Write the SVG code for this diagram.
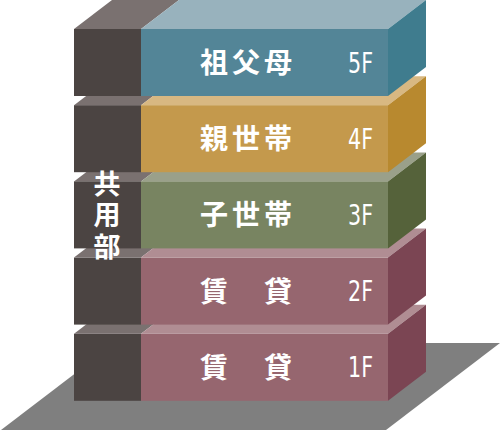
<svg xmlns="http://www.w3.org/2000/svg" width="500" height="431" viewBox="0 0 500 431">
<defs>
<style>
.cjk{font-family:"Noto Sans CJK JP","Noto Sans CJK SC",sans-serif;font-weight:bold;font-size:28px;fill:#ffffff;text-anchor:middle}
.v{font-size:27px;writing-mode:vertical-rl;letter-spacing:4.5px}
.fl{font-family:"Liberation Sans Narrow","DejaVu Sans Condensed","Liberation Sans",sans-serif;font-size:28px;fill:#ffffff}
.dkF{fill:#4b4442}
.dkT{fill:#7a7170}
.bF{fill:#538597}.bT{fill:#98b2bd}.bR{fill:#3f7c8e}
.yF{fill:#c4994c}.yT{fill:#d8b882}.yR{fill:#b8892f}
.gF{fill:#788461}.gT{fill:#9aa08a}.gR{fill:#55623a}
.mF{fill:#96666f}.mT{fill:#b08d93}.mR{fill:#7b4553}
</style>
</defs>
<rect width="500" height="431" fill="#ffffff"/>
<polygon id="ground" points="115,343 500,343 386,430 1,430" fill="#7f7f7f"/>

<g id="floor1">
<polygon class="dkT" points="74,333.8 141,333.8 179,304.8 112,304.8"/>
<rect class="dkF" x="74" y="333.8" width="67" height="67"/>
<polygon class="mT" points="141,333.8 388,333.8 426,304.8 179,304.8"/>
<rect class="mF" x="141" y="333.8" width="247" height="67"/>
<polygon class="mR" points="388,333.8 426,304.8 426,371.8 388,400.8"/>
<text class="cjk" x="214 278" y="377.8">賃貸</text>
<text class="fl" x="348" y="377.3" textLength="25" lengthAdjust="spacingAndGlyphs">1F</text>
</g>

<g id="floor2">
<polygon class="dkT" points="74,257.6 141,257.6 179,228.6 112,228.6"/>
<rect class="dkF" x="74" y="257.6" width="67" height="67"/>
<polygon class="mT" points="141,257.6 388,257.6 426,228.6 179,228.6"/>
<rect class="mF" x="141" y="257.6" width="247" height="67"/>
<polygon class="mR" points="388,257.6 426,228.6 426,295.6 388,324.6"/>
<text class="cjk" x="214 278" y="301.6">賃貸</text>
<text class="fl" x="348" y="301.1" textLength="25" lengthAdjust="spacingAndGlyphs">2F</text>
</g>

<g id="floor3">
<polygon class="dkT" points="74,181.4 141,181.4 179,152.4 112,152.4"/>
<rect class="dkF" x="74" y="181.4" width="67" height="67"/>
<polygon class="gT" points="141,181.4 388,181.4 426,152.4 179,152.4"/>
<rect class="gF" x="141" y="181.4" width="247" height="67"/>
<polygon class="gR" points="388,181.4 426,152.4 426,219.4 388,248.4"/>
<text class="cjk" x="214 246 278" y="225.4">子世帯</text>
<text class="fl" x="348" y="224.9" textLength="25" lengthAdjust="spacingAndGlyphs">3F</text>
</g>

<g id="floor4">
<polygon class="dkT" points="74,105.2 141,105.2 179,76.2 112,76.2"/>
<rect class="dkF" x="74" y="105.2" width="67" height="67"/>
<polygon class="yT" points="141,105.2 388,105.2 426,76.2 179,76.2"/>
<rect class="yF" x="141" y="105.2" width="247" height="67"/>
<polygon class="yR" points="388,105.2 426,76.2 426,143.2 388,172.2"/>
<text class="cjk" x="214 246 278" y="149.2">親世帯</text>
<text class="fl" x="348" y="148.7" textLength="25" lengthAdjust="spacingAndGlyphs">4F</text>
</g>

<g id="floor5">
<polygon class="dkT" points="74,29 141,29 179,0 112,0"/>
<rect class="dkF" x="74" y="29" width="67" height="67"/>
<polygon class="bT" points="141,29 388,29 426,0 179,0"/>
<rect class="bF" x="141" y="29" width="247" height="67"/>
<polygon class="bR" points="388,29 426,0 426,67 388,96"/>
<text class="cjk" x="214 246 278" y="73">祖父母</text>
<text class="fl" x="348" y="72.5" textLength="25" lengthAdjust="spacingAndGlyphs">5F</text>
</g>

<g id="shared">
<text class="cjk v" x="107" y="217">共用部</text>
</g>
<g id="connectors"/>
</svg>
